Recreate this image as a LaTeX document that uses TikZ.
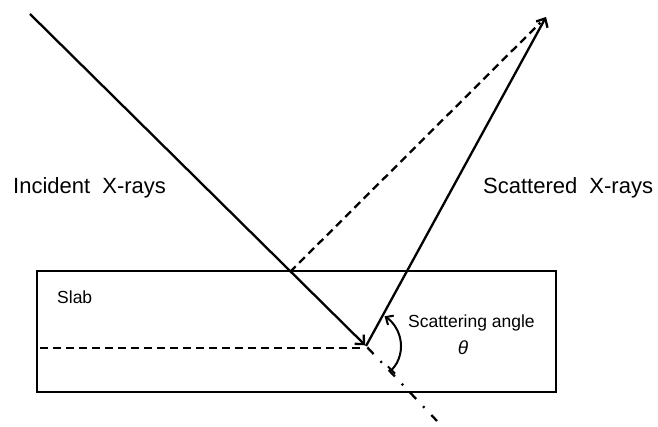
\documentclass[tikz,border=0pt]{standalone}
\usepackage{fontspec}
\setmainfont{Liberation Sans}
\usetikzlibrary{arrows.meta}
\begin{document}
\begin{tikzpicture}[x=1pt,y=1pt,
  ray/.style={line width=2.3pt},
  tip/.style={-{Straight Barb[length=7pt,width=13pt,line width=2.3pt]}},
  lbl/.style={anchor=base west,inner sep=0pt,font=\fontsize{22}{24}\selectfont},
  small/.style={anchor=base west,inner sep=0pt,font=\fontsize{17.5}{20}\selectfont}]
\useasboundingbox (0,0) rectangle (658,426);
% slab
\node[draw,line width=2pt,minimum width=519pt,minimum height=121pt,inner sep=0pt,anchor=south west] (slab) at (36,33) {};
% points
\coordinate (I0) at (30,412);
\coordinate (S) at (366,80);
\coordinate (T) at (546,409);
\coordinate (D) at (290,154);
\coordinate (H0) at (40,78);
\coordinate (H1) at (363,78);
\coordinate (E) at (437,5);
% rays
\draw[ray,tip,shorten >=1pt] (I0) -- (S);
\draw[ray,tip] (S) -- (T);
\draw[ray,dash pattern=on 8pt off 5pt,shorten >=8pt] (D) -- (T);
\draw[ray,dash pattern=on 8pt off 5pt] (H0) -- (H1);
\draw[ray,dash pattern=on 9pt off 10pt on 2pt off 10pt,shorten <=2pt] (S) -- (E);
% angle arc
\draw[line width=2pt,{Bar[width=10pt]}-{Straight Barb[length=6pt,width=11pt,line width=2pt]}] ([shift={(-45:35)}]S) arc[start angle=-45,end angle=58,radius=35];
% labels
\node[lbl] (inc) at (13,232) {Incident\hspace{6pt} X-rays};
\node[lbl] (sca) at (483,232) {Scattered\hspace{6pt} X-rays};
\node[small] (slablbl) at (57,123) {Slab};
\node[small] (ang) at (408,99) {Scattering angle};
\node[inner sep=0pt,font=\fontsize{19}{20}\selectfont\itshape] (theta) at (463,78) {θ};
\end{tikzpicture}
\end{document}
